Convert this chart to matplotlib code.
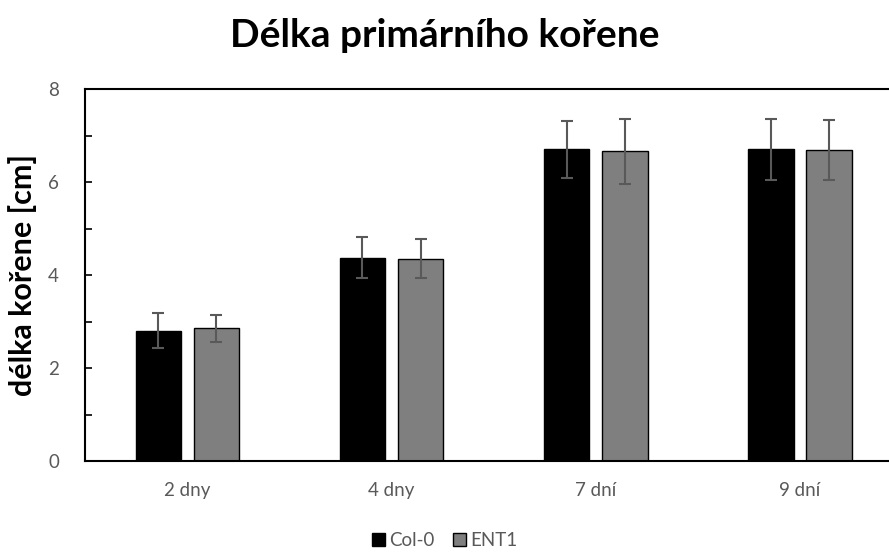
import matplotlib.pyplot as plt
import numpy as np

kategorie = ["2 dny", "4 dny", "7 dní", "9 dní"]
col0 = [2.80, 4.37, 6.70, 6.70]
col0_err = [0.38, 0.44, 0.61, 0.65]
ent1 = [2.85, 4.35, 6.66, 6.69]
ent1_err = [0.29, 0.42, 0.70, 0.64]

plt.rcParams['font.family'] = ['Lato', 'DejaVu Sans']
seda = "#595959"

fig = plt.figure(figsize=(8.89, 5.52), dpi=100)
ax = fig.add_axes([85.3 / 889, 1 - 461 / 552, (902 - 85.3) / 889, (461 - 89) / 552])

x = np.arange(len(kategorie))
sirka = 0.223
posun = 0.1425
chyby = dict(ecolor=seda, elinewidth=1.5, capsize=4.5, capthick=1.5)
ax.bar(x - posun, col0, sirka, yerr=col0_err, color="black", edgecolor="black",
       linewidth=1, label="Col-0", error_kw=chyby)
ax.bar(x + posun, ent1, sirka, yerr=ent1_err, color="#7f7f7f", edgecolor="black",
       linewidth=1, label="ENT1", error_kw=chyby)

ax.set_xlim(-0.5, len(kategorie) - 0.5)
ax.set_ylim(0, 8)
ax.set_yticks([0, 2, 4, 6, 8])
ax.set_yticks([1, 3, 5, 7], minor=True)
ax.set_xticks(x)
ax.set_xticklabels(kategorie)
ax.tick_params(axis="y", which="both", direction="in", length=5, width=1.2,
               labelsize=13.5, labelcolor=seda, pad=19)
ax.tick_params(axis="x", length=0, labelsize=13.5, labelcolor=seda, pad=15)
for s in ax.spines.values():
    s.set_linewidth(1.5)

ax.set_ylabel("délka kořene [cm]", fontsize=22, fontweight="bold", labelpad=8)
fig.text(0.5, 0.935, "Délka primárního kořene", ha="center", va="center",
         fontsize=28, fontweight="bold")

leg = fig.legend(loc="center", bbox_to_anchor=(0.5, 0.02), ncol=2, frameon=False,
                 fontsize=13.5, handlelength=0.7, handleheight=0.7, handletextpad=0.2,
                 columnspacing=1.0, borderaxespad=0)
for t in leg.get_texts():
    t.set_color(seda)

fig.savefig("out.png", dpi=100)
